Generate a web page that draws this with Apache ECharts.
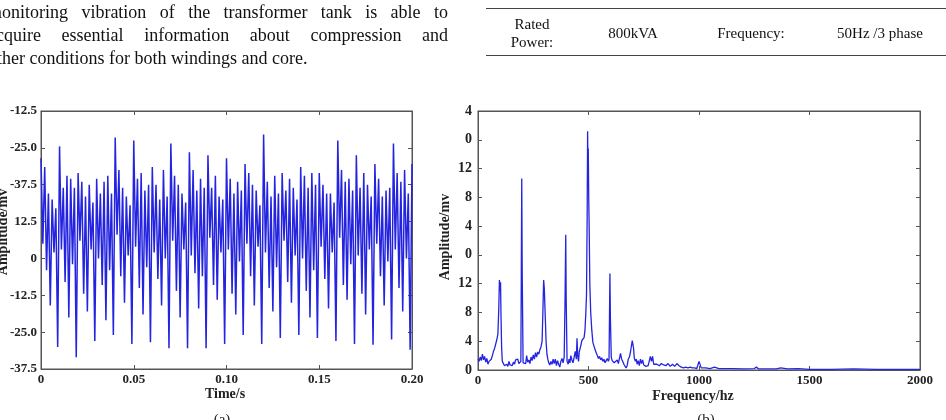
<!DOCTYPE html>
<html>
<head>
<meta charset="utf-8">
<script src="https://cdn.jsdelivr.net/npm/echarts@6/dist/echarts.min.js"></script>
<style>
  body { margin:0; background:#fff; }
  #wrap { position:relative; width:946px; height:420px; overflow:hidden; }
  #main { position:absolute; left:0; top:0; width:946px; height:420px; }
  .para { position:absolute; left:-12px; width:460px; font-family:"Liberation Serif",serif; font-size:18px; color:#111; white-space:nowrap; }
  .just { text-align:justify; text-align-last:justify; }
  .tbl { position:absolute; font-family:"Liberation Serif",serif; font-size:15px; color:#111; text-align:center; line-height:18px; }
  .rule { position:absolute; left:486px; width:460px; height:1px; background:#444; }
</style>
</head>
<body>
<div id="wrap">
  <div id="main"></div>
  <div class="para just" style="top:2px">monitoring vibration of the transformer tank is able to</div>
  <div class="para just" style="top:25px">acquire essential information about compression and</div>
  <div class="para" style="top:48px">other conditions for both windings and core.</div>
  <div class="rule" style="top:8px"></div>
  <div class="rule" style="top:55px"></div>
  <div class="tbl" style="left:502px;top:15px;width:60px">Rated<br>Power:</div>
  <div class="tbl" style="left:593px;top:24px;width:80px">800kVA</div>
  <div class="tbl" style="left:706px;top:24px;width:90px">Frequency:</div>
  <div class="tbl" style="left:820px;top:24px;width:120px">50Hz /3 phase</div>
</div>
<script>
// (a) time signal, one value per 1 ms, rows = 10 ms
var timeStep = 0.001;
var ampTime = [
  34, 5, 31, -4, 22, -16, 20, 2, 17, -30,
  38, 3, 24, -8, 28, -20, 27, -2, 24, -33.5,
  29, 6, 26, -12, 21, -18, 25, 3, 19, -28,
  27, 0, 22, -9, 26, -21, 28, -4, 22, -26,
  41, 8, 30, -6, 24, -15, 21, 1, 18, -29,
  40, 4, 27, -10, 29, -19, 23, -3, 25, -28.4,
  31, 2, 25, -7, 20, -16, 30, 0, 21, -30.5,
  39, 6, 28, -11, 25, -20, 22, 3, 19, -30.5,
  36, 1, 30, -5, 23, -17, 27, -6, 24, -30.5,
  35, 7, 24, -9, 28, -14, 21, 2, 20, -29,
  34, 3, 27, -12, 22, -19, 26, -1, 23, -26,
  32, 5, 29, -6, 25, -16, 23, 4, 18, -29,
  42, 2, 26, -10, 21, -18, 28, -3, 22, -27,
  29, 6, 23, -8, 27, -15, 24, 1, 20, -26,
  31, 0, 28, -11, 24, -20, 29, -4, 25, -27,
  29, 4, 25, -7, 22, -17, 22, 2, 19, -28,
  40, 7, 30, -9, 26, -14, 27, -2, 23, -29,
  35, 1, 24, -12, 29, -19, 25, 3, 21, -29.3,
  32, 5, 27, -6, 21, -16, 23, -1, 24, -27.5,
  39, 3, 29, -10, 26, -18, 30, 0, 22, -31,
  32
];
var xTicksA = ['0', '0.05', '0.10', '0.15', '0.20'];
var yTicksA = ['-37.5', '-25.0', '-12.5', '0', '12.5', '-37.5', '-25.0', '-12.5'];

// (b) spectrum
var freqB = [
  0,5,10,15,20,25,30,35,40,45,50,55,60,65,70,75,80,85,90,94,97,100,102,104,107,110,115,
  120,125,130,135,140,145,150,155,160,165,170,175,180,185,190,194,196,198,200,202,204,208,
  212,216,220,225,230,235,240,245,250,255,260,265,270,275,280,285,290,294,297,300,302,305,
  308,312,316,320,325,330,335,340,345,350,355,360,365,370,375,380,385,390,394,397,399,401,
  403,408,412,416,420,425,430,435,440,445,448,451,455,458,462,466,470,475,480,484,488,491,
  494,496,498,499,501,503,506,510,515,520,525,530,535,540,545,550,555,560,565,570,575,580,
  585,590,593,595,597,599,601,603,607,612,616,620,625,630,635,640,645,650,655,660,665,670,
  675,680,685,690,695,698,701,704,707,712,716,720,725,730,735,740,745,750,755,760,765,770,
  775,780,785,790,795,800,810,820,830,840,850,860,870,880,890,900,910,920,930,940,950,960,
  970,980,990,996,998,1000,1010,1030,1050,1070,1090,1120,1150,1200,1250,1260,1270,1300,
  1350,1370,1400,1450,1500,1600,1700,1800,1900,2000
];
var ampB = [
  1.5,1.2,1.8,1.3,2.2,1.4,1.9,1.1,1.6,0.8,1.2,1.0,1.5,2.0,2.6,3.0,3.6,4.2,5.0,8.5,12.5,11.0,12.2,7.6,3.0,1.2,1.0,
  0.6,0.5,0.8,0.5,1.2,0.7,0.9,0.6,1.1,0.8,1.4,1.2,1.5,0.9,1.0,1.2,13.5,26.6,13.7,13.6,1.0,0.8,
  1.2,0.9,2.0,1.1,1.4,0.9,1.8,1.3,2.1,1.5,2.4,1.8,2.5,2.2,2.8,3.2,4.0,8.5,12.5,11.4,11.6,6.8,
  4.0,2.2,1.5,1.0,0.7,1.2,0.8,1.5,0.9,1.5,0.6,1.3,0.8,0.4,1.2,1.6,1.0,1.8,10.0,18.8,10.0,10.1,
  1.2,0.8,1.5,1.0,2.0,1.4,1.0,1.8,2.6,1.5,4.4,2.0,1.2,2.5,3.0,3.5,4.1,4.0,4.5,5.5,8.0,10.5,
  21.5,33.2,27.0,30.8,24.0,19.9,12.0,8.0,5.5,3.8,3.6,2.8,2.4,2.0,1.6,1.9,1.4,1.7,1.2,1.5,1.0,1.3,
  1.6,1.2,1.5,7.5,13.4,7.4,7.5,1.8,1.3,1.5,1.0,1.2,0.8,1.4,0.9,1.6,2.3,1.5,1.2,0.8,1.0,0.3,
  0.6,1.5,1.8,2.5,2.5,4.1,4.3,3.0,1.7,1.2,1.5,0.8,1.3,0.6,1.5,0.9,1.4,0.7,0.9,0.5,0.4,0.6,
  0.8,1.9,1.2,1.9,0.8,0.6,0.8,0.6,0.9,0.7,0.6,0.9,0.5,0.8,0.5,0.9,0.6,0.4,0.3,0.4,0.3,0.4,
  0.3,0.3,0.2,0.3,0.3,1.2,0.3,0.3,0.2,0.4,0.2,0.2,0.2,0.15,0.2,0.4,0.15,0.15,
  0.15,0.3,0.15,0.2,0.1,0.1,0.15,0.1,0.1,0.1
];
var xTicksB = ['0', '500', '1000', '1500', '2000'];
var yTicksB = ['0', '4', '8', '12', '0', '4', '8', '12', '0', '4'];

var lineColor = '#2424e0';
var serif = '"Liberation Serif", "Times New Roman", serif';

var seriesA = ampTime.map(function (v, i) { return [i * timeStep, v]; });
var seriesB = freqB.map(function (f, i) { return [f, ampB[i]]; });

var myChart = echarts.init(document.getElementById('main'));

function frameAxis(extra) {
  var ax = {
    type: 'value',
    axisLine: { show: true, onZero: false, lineStyle: { color: '#555', width: 1 } },
    axisTick: { show: true, inside: true, length: 4, lineStyle: { color: '#555' } },
    splitLine: { show: false },
    axisLabel: { show: false }
  };
  for (var k in extra) ax[k] = extra[k];
  return ax;
}
var lbl = { show: true, fontFamily: serif, fontSize: 13, fontWeight: 'bold', color: '#222' };

var option = {
  animation: false,
  backgroundColor: 'transparent',
  grid: [
    { left: 41, top: 111, width: 371, height: 258, show: true, borderColor: '#555', borderWidth: 1, backgroundColor: '#fff' },
    { left: 478, top: 111, width: 442, height: 259, show: true, borderColor: '#555', borderWidth: 1, backgroundColor: '#fff' }
  ],
  xAxis: [
    frameAxis({ gridIndex: 0, min: 0, max: 0.2, interval: 0.05, position: 'bottom',
      axisLabel: Object.assign({}, lbl, { margin: 4, formatter: function (v) { return xTicksA[Math.round(v / 0.05)]; } }) }),
    frameAxis({ gridIndex: 0, min: 0, max: 0.2, interval: 0.05, position: 'top' }),
    frameAxis({ gridIndex: 1, min: 0, max: 2000, interval: 500, position: 'bottom',
      axisLabel: Object.assign({}, lbl, { margin: 4, formatter: function (v) { return xTicksB[Math.round(v / 500)]; } }) }),
    frameAxis({ gridIndex: 1, min: 0, max: 2000, interval: 500, position: 'top' })
  ],
  yAxis: [
    frameAxis({ gridIndex: 0, min: -37.5, max: 50, interval: 12.5, position: 'left',
      axisLabel: Object.assign({}, lbl, { margin: 4, formatter: function (v) { return yTicksA[Math.round((v + 37.5) / 12.5)]; } }) }),
    frameAxis({ gridIndex: 0, min: -37.5, max: 50, interval: 12.5, position: 'right' }),
    frameAxis({ gridIndex: 1, min: 0, max: 36, interval: 4, position: 'left',
      axisLabel: Object.assign({}, lbl, { margin: 6, fontSize: 14, formatter: function (v) { return yTicksB[Math.round(v / 4)]; } }) }),
    frameAxis({ gridIndex: 1, min: 0, max: 36, interval: 4, position: 'right' })
  ],
  series: [
    { type: 'line', xAxisIndex: 0, yAxisIndex: 0, data: seriesA, symbol: 'none',
      lineStyle: { color: lineColor, width: 1.5 } },
    { type: 'line', xAxisIndex: 2, yAxisIndex: 2, data: seriesB, symbol: 'none',
      lineStyle: { color: lineColor, width: 1.3 } }
  ],
  graphic: [
    { type: 'text', x: 225, y: 394, style: { text: 'Time/s', font: 'bold 14px ' + serif, fill: '#222', textAlign: 'center', textVerticalAlign: 'middle' } },
    { type: 'text', x: 693, y: 396, style: { text: 'Frequency/hz', font: 'bold 14px ' + serif, fill: '#222', textAlign: 'center', textVerticalAlign: 'middle' } },
    { type: 'text', x: 3, y: 232, rotation: Math.PI / 2, style: { text: 'Amplitude/mv', font: 'bold 14px ' + serif, fill: '#222', textAlign: 'center', textVerticalAlign: 'middle' } },
    { type: 'text', x: 445, y: 237, rotation: Math.PI / 2, style: { text: 'Amplitude/mv', font: 'bold 14px ' + serif, fill: '#222', textAlign: 'center', textVerticalAlign: 'middle' } },
    { type: 'text', x: 222, y: 413, style: { text: '(a)', font: '15px ' + serif, fill: '#222', textAlign: 'center', textVerticalAlign: 'top' } },
    { type: 'text', x: 706, y: 413, style: { text: '(b)', font: '15px ' + serif, fill: '#222', textAlign: 'center', textVerticalAlign: 'top' } }
  ]
};

myChart.setOption(option);
window.onresize = myChart.resize;
</script>
</body>
</html>
